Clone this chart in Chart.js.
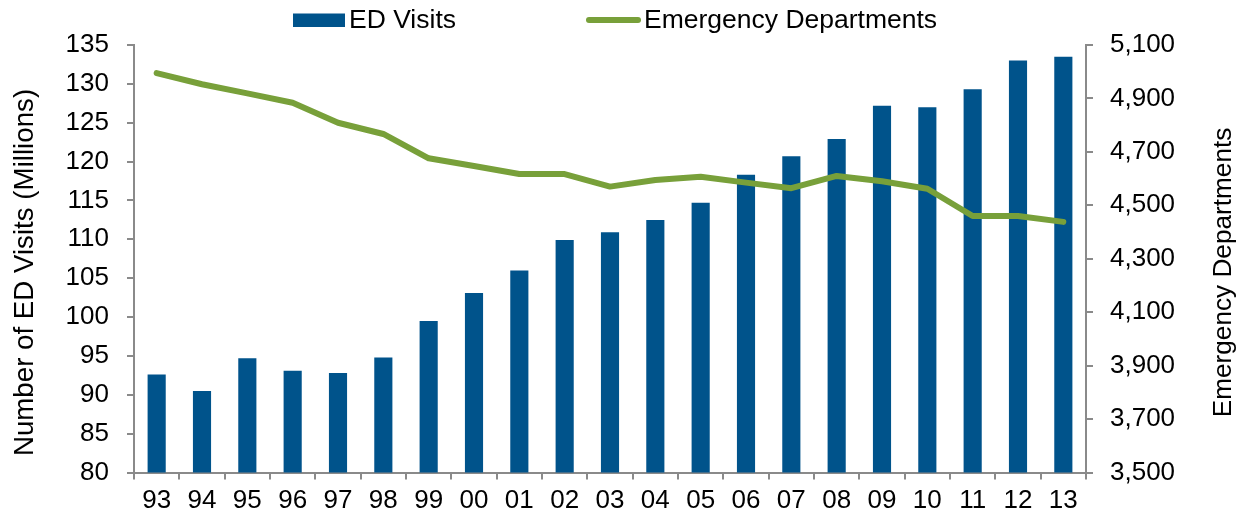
<!DOCTYPE html>
<html>
<head>
<meta charset="utf-8">
<script src="https://cdn.jsdelivr.net/npm/chart.js@4"></script>
<style>
  html, body { margin: 0; padding: 0; background: #fff; }
  #wrap { width: 1247px; height: 517px; }
</style>
</head>
<body>
<div id="wrap"><canvas id="c" width="1247" height="517"></canvas></div>
<script>
const categories = ['93','94','95','96','97','98','99','00','01','02','03','04','05','06','07','08','09','10','11','12','13'];
const edVisits = [92.6, 90.5, 94.7, 93.1, 92.8, 94.8, 99.5, 103.1, 106.0, 109.9, 110.9, 112.5, 114.7, 118.3, 120.7, 122.9, 127.2, 127.0, 129.3, 133.0, 133.5];
const emergencyDepartments = [4995, 4953, 4919, 4884, 4809, 4767, 4676, 4647, 4617, 4617, 4570, 4595, 4607, 4585, 4564, 4610, 4590, 4562, 4460, 4460, 4438];
const leftTicks = [80, 85, 90, 95, 100, 105, 110, 115, 120, 125, 130, 135];
const rightTicks = [3500, 3700, 3900, 4100, 4300, 4500, 4700, 4900, 5100];

const BAR_COLOR = '#00538b';
const LINE_COLOR = '#78a03a';
const AXIS_COLOR = '#8a8a8a';
const FONT = "'Liberation Sans', Arial, sans-serif";
const LEFT_TITLE = 'Number of ED Visits (Millions)';
const RIGHT_TITLE = 'Emergency Departments';

const legendPlugin = {
  id: 'customLegend',
  afterDraw(chart) {
    const ctx = chart.ctx;
    const bar = chart.data.datasets.find(d => d.type === 'bar');
    const line = chart.data.datasets.find(d => d.type === 'line');
    ctx.save();
    ctx.font = '26.5px ' + FONT;
    ctx.textBaseline = 'alphabetic';
    ctx.textAlign = 'left';
    // bar item
    ctx.fillStyle = bar.backgroundColor;
    ctx.fillRect(293, 13.5, 52, 13.5);
    ctx.fillStyle = '#000';
    ctx.fillText(bar.label, 349, 27.5);
    // line item
    ctx.strokeStyle = line.borderColor;
    ctx.lineWidth = 6;
    ctx.lineCap = 'round';
    ctx.beginPath();
    ctx.moveTo(589, 20);
    ctx.lineTo(638, 20);
    ctx.stroke();
    ctx.fillText(line.label, 644, 27.5);
    ctx.restore();

    // axis titles, reading bottom-to-top
    const drawTitle = (text, x, y, size) => {
      ctx.save();
      ctx.translate(x, y);
      ctx.rotate(-Math.PI / 2);
      ctx.font = size + 'px ' + FONT;
      ctx.fillStyle = '#000';
      ctx.textAlign = 'center';
      ctx.textBaseline = 'middle';
      ctx.fillText(text, 0, 0);
      ctx.restore();
    };
    drawTitle(LEFT_TITLE, 25, 272.5, 27.7);
    drawTitle(RIGHT_TITLE, 1224, 272.5, 26.2);
  }
};

new Chart(document.getElementById('c'), {
  data: {
    labels: categories,
    datasets: [
      {
        type: 'bar',
        label: 'ED Visits',
        data: edVisits,
        yAxisID: 'y',
        backgroundColor: BAR_COLOR,
        borderWidth: 0,
        barPercentage: 0.4,
        categoryPercentage: 1.0,
        order: 1
      },
      {
        type: 'line',
        label: 'Emergency Departments',
        data: emergencyDepartments,
        yAxisID: 'y2',
        borderColor: LINE_COLOR,
        backgroundColor: LINE_COLOR,
        borderWidth: 6,
        pointRadius: 0,
        tension: 0,
        borderJoinStyle: 'round',
        borderCapStyle: 'round',
        order: 0
      }
    ]
  },
  options: {
    responsive: false,
    animation: false,
    layout: { padding: { top: 45, left: 0, right: 0, bottom: 0 } },
    plugins: {
      legend: { display: false },
      tooltip: { enabled: false }
    },
    scales: {
      x: {
        type: 'category',
        offset: true,
        grid: { display: true, drawOnChartArea: false, drawTicks: true, tickLength: 7, color: AXIS_COLOR, lineWidth: 2, offset: true },
        border: { display: true, color: AXIS_COLOR, width: 2 },
        ticks: { color: '#000', font: { family: FONT, size: 26 }, padding: 6, maxRotation: 0, autoSkip: false },
        afterFit(s) { s.height = 44.5; }
      },
      y: {
        type: 'linear',
        position: 'left',
        min: 80, max: 135,
        afterBuildTicks(s) { s.ticks = leftTicks.map(v => ({ value: v })); },
        grid: { display: true, drawOnChartArea: false, drawTicks: true, tickLength: 7, color: AXIS_COLOR, lineWidth: 2 },
        border: { display: true, color: AXIS_COLOR, width: 2 },
        ticks: { color: '#000', font: { family: FONT, size: 26 }, padding: 18 },
        afterFit(s) { s.width = 134; }
      },
      y2: {
        type: 'linear',
        position: 'right',
        min: 3500, max: 5100,
        afterBuildTicks(s) { s.ticks = rightTicks.map(v => ({ value: v })); },
        grid: { display: true, drawOnChartArea: false, drawTicks: true, tickLength: 7, color: AXIS_COLOR, lineWidth: 2 },
        border: { display: true, color: AXIS_COLOR, width: 2 },
        ticks: { color: '#000', font: { family: FONT, size: 26 }, padding: 17, callback: v => v.toLocaleString('en-US') },
        afterFit(s) { s.width = 161; }
      }
    }
  },
  plugins: [legendPlugin]
});
</script>
</body>
</html>
